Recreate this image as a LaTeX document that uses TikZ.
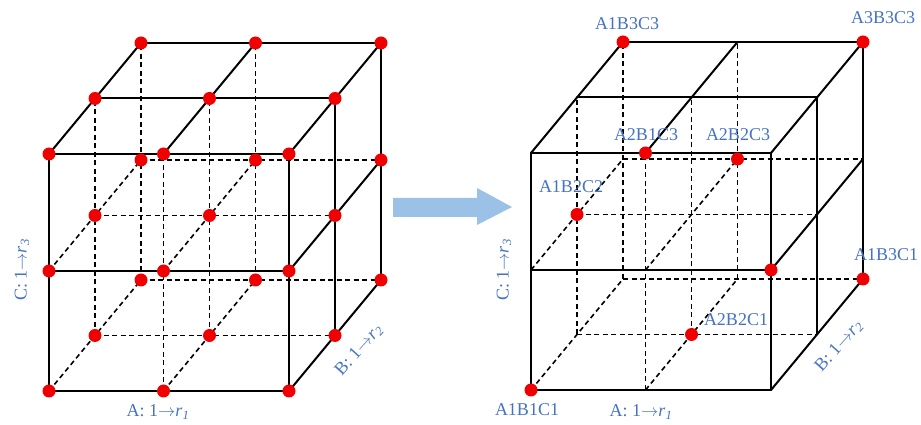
\documentclass[tikz,border=0pt]{standalone}
\usepackage{fontspec}
\setmainfont{Liberation Serif}
\usetikzlibrary{calc}
\definecolor{txtblue}{RGB}{68,114,196}
\definecolor{arrowblue}{RGB}{155,194,230}
\definecolor{dotred}{RGB}{240,0,0}

\begin{document}
\begin{tikzpicture}[
  x=1pt, y=1pt,
  edge/.style={line width=2pt, line cap=round},
  hid/.style={line width=1.6pt, dash pattern=on 5pt off 3.5pt},
  dot/.style={circle, fill=dotred, inner sep=0pt, minimum size=13pt},
  lab/.style={text=txtblue, font=\fontsize{18}{21}\selectfont, inner sep=1pt},
]
\useasboundingbox (0,0) rectangle (921,425);

% ---- Lattice points (A along x, B along depth, C up) -----------------------
\foreach \c/\ox/\oy in {L/49/34, R/531/35} {
  \foreach \i/\ax in {0/0, 1/114.5, 2/240}
    \foreach \j in {0,1,2}
      \foreach \k/\cz in {0/0, 1/120, 2/237}
        \coordinate (\c\i\j\k) at ({\ox+\ax+46*\j}, {\oy+\cz+55.5*\j});
}

% ---- Hidden grid lines -----------------------------------------------------
\foreach \c in {L,R} {
  \foreach \j/\k in {1/0,1/1,2/0,2/1} \draw[hid] (\c0\j\k) -- (\c2\j\k);
  \foreach \i/\j in {1/0,0/1,0/2,1/1,1/2} \draw[hid] (\c\i\j0) -- (\c\i\j2);
  \foreach \i/\k in {0/0,0/1,1/0,1/1} \draw[hid] (\c\i0\k) -- (\c\i2\k);
}

% ---- Visible grid lines ----------------------------------------------------
\foreach \c in {L,R} {
  \foreach \j/\k in {0/0,0/1,0/2,1/2,2/2} \draw[edge] (\c0\j\k) -- (\c2\j\k);
  \foreach \i/\j in {0/0,2/0,2/1,2/2} \draw[edge] (\c\i\j0) -- (\c\i\j2);
  \foreach \i/\k in {0/2,1/2,2/2,2/0,2/1} \draw[edge] (\c\i0\k) -- (\c\i2\k);
}

% ---- Full factorial points (left) ------------------------------------------
\foreach \i in {0,1,2}
  \foreach \j in {0,1,2}
    \foreach \k in {0,1,2}
      \node[dot] (dL\i\j\k) at (L\i\j\k) {};

% ---- Orthogonal points (right) ---------------------------------------------
\foreach \p in {000,022,222,102,121,011,220,201,110}
  \node[dot] (dR\p) at (R\p) {};

\node[lab] (t000) at (527,15)  {A1B1C1};
\node[lab] (t022) at (627,401) {A1B3C3};
\node[lab] (t222) at (883,407) {A3B3C3};
\node[lab] (t102) at (646,290) {A2B1C3};
\node[lab] (t121) at (738,290) {A2B2C3};
\node[lab] (t011) at (571,238) {A1B2C2};
\node[lab] (t220) at (886,170) {A1B3C1};
\node[lab] (t110) at (736,105) {A2B2C1};

% ---- Axis labels -----------------------------------------------------------
\node[lab] (aL) at (158,13) {A: 1$\rightarrow$\textit{r}\textsubscript{\textit{1}}};
\node[lab, rotate=90] (cL) at (22,155) {C: 1$\rightarrow$\textit{r}\textsubscript{\textit{3}}};
\node[lab, rotate=48] (bL) at (359,75) {B: 1$\rightarrow$\textit{r}\textsubscript{\textit{2}}};
\node[lab] (aR) at (641,13) {A: 1$\rightarrow$\textit{r}\textsubscript{\textit{1}}};
\node[lab, rotate=90] (cR) at (504,155) {C: 1$\rightarrow$\textit{r}\textsubscript{\textit{3}}};
\node[lab, rotate=48] (bR) at (839,79) {B: 1$\rightarrow$\textit{r}\textsubscript{\textit{2}}};

% ---- Block arrow -----------------------------------------------------------
\fill[arrowblue] (393,208) -- (477,208) -- (477,200) -- (512,218)
  -- (477,237) -- (477,227) -- (393,227) -- cycle;

\end{tikzpicture}
\end{document}
